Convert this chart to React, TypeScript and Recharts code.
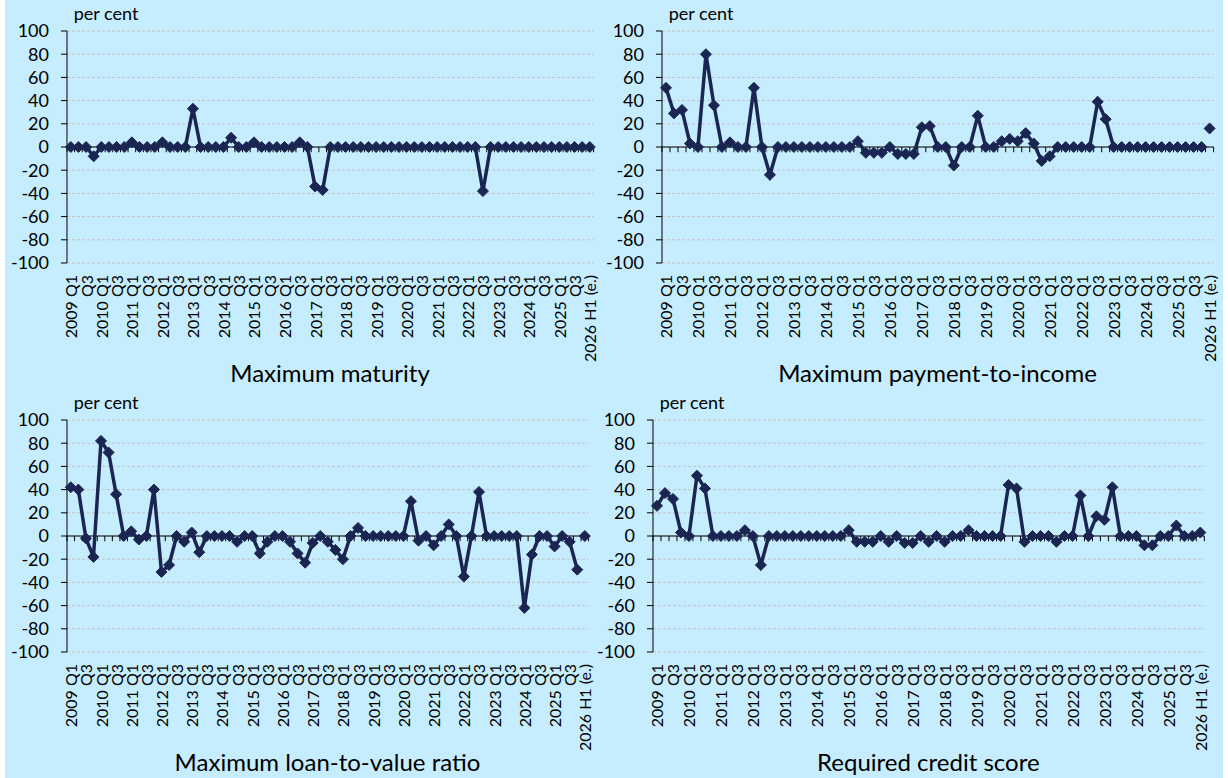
import React from "react";
import { LineChart, Line, XAxis, YAxis, CartesianGrid, ReferenceLine } from "recharts";

// quarterly survey results, 2009 Q1 .. 2025 Q4, plus the 2026 H1 estimate
const years = [2009, 2010, 2011, 2012, 2013, 2014, 2015, 2016, 2017, 2018, 2019, 2020, 2021, 2022, 2023, 2024, 2025];
const quarters = ["Q1", "Q2", "Q3", "Q4"];
const estimateLabel = "2026 H1 (e.)";
const categories = [...years.flatMap((y) => quarters.map((q) => `${y} ${q}`)), estimateLabel];

const yTicks = [-100, -80, -60, -40, -20, 0, 20, 40, 60, 80, 100];

const maturity = [
  0, 0, 0, -8, 0, 0, 0, 0,
  4, 0, 0, 0, 4, 0, 0, 0,
  33, 0, 0, 0, 0, 8, 0, 0,
  4, 0, 0, 0, 0, 0, 4, 0,
  -34, -37, 0, 0, 0, 0, 0, 0,
  0, 0, 0, 0, 0, 0, 0, 0,
  0, 0, 0, 0, 0, 0, -38, 0,
  0, 0, 0, 0, 0, 0, 0, 0,
  0, 0, 0, 0,
];
const maturityEst = 0;

const paymentToIncome = [
  51, 29, 32, 3, 0, 80, 36, 0,
  4, 0, 0, 51, 0, -24, 0, 0,
  0, 0, 0, 0, 0, 0, 0, 0,
  5, -5, -5, -5, 0, -6, -6, -6,
  17, 18, 0, 0, -16, 0, 0, 27,
  0, 0, 5, 7, 5, 12, 3, -12,
  -8, 0, 0, 0, 0, 0, 39, 24,
  0, 0, 0, 0, 0, 0, 0, 0,
  0, 0, 0, 0,
];
const paymentToIncomeEst = 16;

const loanToValue = [
  42, 40, -2, -18, 82, 72, 36, 0,
  4, -3, 0, 40, -31, -25, 0, -5,
  3, -14, 0, 0, 0, 0, -5, 0,
  0, -15, -5, 0, 0, -5, -15, -23,
  -6, 0, -5, -12, -20, 0, 7, 0,
  0, 0, 0, 0, 0, 30, -4, 0,
  -8, 0, 10, 0, -35, 0, 38, 0,
  0, 0, 0, 0, -62, -16, 0, 0,
  -9, 0, -5, -29,
];
const loanToValueEst = 0;

const creditScore = [
  26, 37, 32, 3, 0, 52, 41, 0,
  0, 0, 0, 5, 0, -25, 0, 0,
  0, 0, 0, 0, 0, 0, 0, 0,
  5, -5, -5, -5, 0, -5, 0, -6,
  -6, 0, -5, 0, -5, 0, 0, 5,
  0, 0, 0, 0, 44, 41, -5, 0,
  0, 0, -5, 0, 0, 35, 0, 17,
  14, 42, 0, 0, 0, -8, -8, 0,
  0, 9, 0, 0,
];
const creditScoreEst = 3;

const LINE = "#1b2552";
const FONT = "Lato, 'Noto Sans', sans-serif";

function tickLabel(cat: string) {
  if (cat === estimateLabel) return cat;
  if (cat.endsWith("Q1")) return cat;
  if (cat.endsWith("Q3")) return "Q3";
  return "";
}

function buildRows(values: number[], est: number) {
  return categories.map((cat, i) => ({
    cat,
    value: i < values.length ? values[i] : null,
    est: cat === estimateLabel ? est : null,
  }));
}

const Diamond = (props: any) => {
  const { cx, cy, index } = props;
  if (cx == null || cy == null || isNaN(cy)) return <g key={`d-${index}`} />;
  const r = 5.5;
  return (
    <path
      key={`d-${index}`}
      d={`M${cx},${cy - r}L${cx + r},${cy}L${cx},${cy + r}L${cx - r},${cy}Z`}
      fill={LINE}
      stroke={LINE}
      strokeWidth={1}
    />
  );
};

const QuarterTick = (props: any) => {
  const { x, y, payload } = props;
  return (
    <text
      transform={`translate(${x},${y}) rotate(-90)`}
      textAnchor="end"
      dominantBaseline="central"
      fontSize={16}
      fontFamily={FONT}
      fill="#000"
    >
      {tickLabel(payload.value)}
    </text>
  );
};

interface PanelProps {
  title: string;
  values: number[];
  est: number;
  axisX: number; // page x of the value axis
  plotRight: number; // page x of the right end of the plot
  top: number;
}

const Y_AXIS_W = 66;
const RIGHT_PAD = 10;
const PANEL_H = 389;
const PLOT_TOP = 31;
const PLOT_H = 232;

const Panel: React.FC<PanelProps> = ({ title, values, est, axisX, plotRight, top }) => {
  const rows = buildRows(values, est);
  const left = axisX - Y_AXIS_W;
  const width = plotRight + RIGHT_PAD - left;
  return (
    <>
      <div style={{ position: "absolute", left, top, width, height: PANEL_H }}>
        <LineChart
          width={width}
          height={PANEL_H}
          data={rows}
          margin={{ top: PLOT_TOP, right: RIGHT_PAD, left: 0, bottom: 0 }}
        >
          <CartesianGrid vertical={false} stroke="#c3c3c3" strokeDasharray="3 2" />
          <XAxis
            dataKey="cat"
            scale="band"
            interval={0}
            axisLine={false}
            tickLine={false}
            tickSize={0}
            tickMargin={12}
            height={PANEL_H - PLOT_TOP - PLOT_H}
            tick={<QuarterTick />}
          />
          <YAxis
            domain={[-100, 100]}
            ticks={yTicks}
            interval={0}
            width={Y_AXIS_W}
            axisLine={{ stroke: "#000" }}
            tickLine={{ stroke: "#000" }}
            tickSize={6}
            tickMargin={12}
            tick={{ fill: "#000", fontSize: 18, fontFamily: FONT }}
          />
          <ReferenceLine y={0} stroke="#000" strokeWidth={1} />
          {categories.map((c) => (
            <ReferenceLine
              key={`t-${c}`}
              segment={[{ x: c, y: 0 }, { x: c, y: -4.5 }]}
              position="start"
              stroke="#000"
              strokeWidth={1}
            />
          ))}
          <ReferenceLine
            segment={[{ x: estimateLabel, y: 0 }, { x: estimateLabel, y: -4.5 }]}
            position="end"
            stroke="#000"
            strokeWidth={1}
          />
          <Line
            dataKey="value"
            stroke={LINE}
            strokeWidth={3.5}
            dot={Diamond}
            activeDot={false}
            isAnimationActive={false}
          />
          <Line
            dataKey="est"
            stroke="none"
            dot={Diamond}
            activeDot={false}
            isAnimationActive={false}
          />
        </LineChart>
      </div>
      <div
        style={{
          position: "absolute",
          left: axisX + 7,
          top: top + 2,
          fontSize: 18,
          fontFamily: FONT,
          color: "#000",
          whiteSpace: "nowrap",
        }}
      >
        per cent
      </div>
      <div
        style={{
          position: "absolute",
          left: (axisX + plotRight) / 2 - 200,
          width: 400,
          top: top + 358,
          textAlign: "center",
          fontSize: 24,
          fontFamily: FONT,
          color: "#000",
          whiteSpace: "nowrap",
        }}
      >
        {title}
      </div>
    </>
  );
};

export default function App() {
  return (
    <div style={{ position: "absolute", left: 0, top: 0, width: 1228, height: 778, background: "#fff" }}>
      <div style={{ position: "absolute", left: 5, top: 0, width: 1218, height: 778, background: "#c6edfe" }} />
      <Panel title="Maximum maturity" values={maturity} est={maturityEst} axisX={66.7} plotRight={593.3} top={0} />
      <Panel title="Maximum payment-to-income" values={paymentToIncome} est={paymentToIncomeEst} axisX={661.7} plotRight={1213.3} top={0} />
      <Panel title="Maximum loan-to-value ratio" values={loanToValue} est={loanToValueEst} axisX={66.7} plotRight={588.3} top={388.6} />
      <Panel title="Required credit score" values={creditScore} est={creditScoreEst} axisX={652.7} plotRight={1204} top={388.6} />
    </div>
  );
}
